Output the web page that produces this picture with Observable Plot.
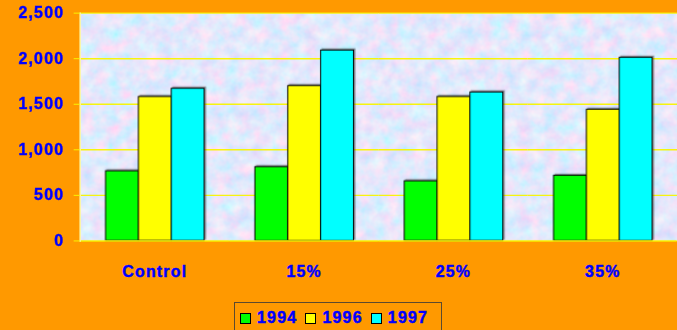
<!DOCTYPE html>
<html>
<head>
<meta charset="utf-8">
<script src="https://cdn.jsdelivr.net/npm/d3@7"></script>
<script src="https://cdn.jsdelivr.net/npm/@observablehq/plot@0.6"></script>
<style>
  html, body { margin: 0; padding: 0; background: #ff9900; overflow: hidden; }
  #wrap { position: relative; width: 677px; height: 330px; overflow: hidden; }
  #wrap svg text { letter-spacing: 1.2px; stroke: #0000ff; stroke-width: 0.45px; }
  .legend {
    position: absolute; left: 234px; top: 302px; width: 208px; height: 40px;
    border: 1px solid #5b4a30; box-sizing: border-box;
    display: flex; align-items: flex-start; padding: 8px 0 0 5px;
    font: bold 16px "Liberation Sans", Arial, sans-serif; letter-spacing: 1.2px; color: #0000ff;
    -webkit-text-stroke: 0.45px #0000ff;
  }
  .legend .item { display: flex; align-items: center; margin-right: 8px; line-height: 14px; }
  .legend .sw { width: 11px; height: 11px; border: 1px solid #000; box-sizing: border-box; margin-right: 6px; }
</style>
</head>
<body>
<div id="wrap"></div>
<script>
// Yield by treatment, three seasons
const categories = ["Control", "15%", "25%", "35%"];
const years = ["1994", "1996", "1997"];
const v1994 = [765, 810, 655, 715];
const v1996 = [1580, 1700, 1580, 1440];
const v1997 = [1670, 2090, 1630, 2010];
const yTicks = [0, 500, 1000, 1500, 2000, 2500];
const yearColors = ["#00ff00", "#ffff00", "#00ffff"];

const series = [v1994, v1996, v1997];
const data = [];
categories.forEach((cat, i) => {
  years.forEach((year, j) => data.push({cat, year, value: series[j][i]}));
});

const blue = "#0000ff";
const gridYellow = "#f8f400";

const plot = Plot.plot({
  width: 680,
  height: 330,
  marginLeft: 80,
  marginRight: 0,
  marginTop: 12.7,
  marginBottom: 88.5,
  style: {
    fontFamily: "'Liberation Sans', Arial, sans-serif",
    fontSize: "16px",
    fontWeight: "bold",
    background: "transparent",
    overflow: "visible"
  },
  // facets abut so gridlines run continuously; the bar groups sit inside each band
  fx: {domain: categories, padding: 0, label: null},
  x: {domain: years, paddingInner: 0, paddingOuter: 0.7275, axis: null},
  y: {domain: [0, 2500], axis: null},
  color: {domain: years, range: yearColors},
  marks: [
    Plot.frame({facet: "super", fill: "#c4d6f7", stroke: "none"}),
    Plot.ruleY(yTicks.filter(d => d > 0), {stroke: gridYellow, strokeWidth: 1.4, strokeOpacity: 0.95}),
    Plot.barY(data, {fx: "cat", x: "year", y: "value", fill: "year", stroke: "#000", strokeWidth: 1}),
    Plot.ruleY([0], {stroke: gridYellow, strokeWidth: 1.5}),
    Plot.frame({facet: "super", anchor: "left", stroke: "#fdf7a0", strokeWidth: 1.5}),
    Plot.axisY({
      ticks: yTicks, tickFormat: d3.format(","), tickSize: 6, tickPadding: 10,
      stroke: gridYellow, fill: blue, label: null
    }),
    Plot.axisFx({anchor: "bottom", tickSize: 0, tickPadding: 25, fill: blue, label: null})
  ]
});

document.getElementById("wrap").appendChild(plot);

// Axis tick marks keep their yellow stroke; only the labels get the heavier blue outline
d3.select(plot).selectAll("g[aria-label$='tick'] path, g[aria-label$='tick'] line").style("stroke", gridYellow);

// Marbled plot-area texture and soft shadow under the bars
const svg = d3.select(plot);
const defs = svg.insert("defs", ":first-child");
const marble = defs.append("filter").attr("id", "marble")
  .attr("x", 0).attr("y", 0).attr("width", 1).attr("height", 1);
marble.append("feTurbulence")
  .attr("type", "fractalNoise").attr("baseFrequency", 0.075)
  .attr("numOctaves", 3).attr("seed", 11).attr("result", "noise");
marble.append("feColorMatrix").attr("in", "noise").attr("type", "matrix")
  .attr("values", "0.6 -0.3 0 0 0.62  0 0.3 -0.15 0 0.73  -0.1 0.1 0 0 0.97  0 0 0 0 1");
const shadow = defs.append("filter").attr("id", "barShadow")
  .attr("x", "-20%").attr("y", "-20%").attr("width", "140%").attr("height", "140%");
shadow.append("feDropShadow").attr("dx", 1.5).attr("dy", -1.2)
  .attr("stdDeviation", 0.5).attr("flood-color", "#333").attr("flood-opacity", 0.55);

const frameNode = plot.querySelector("[aria-label=frame]");
const bgRect = frameNode.tagName.toLowerCase() === "rect" ? frameNode : frameNode.querySelector("rect");
if (bgRect) bgRect.setAttribute("filter", "url(#marble)");
svg.selectAll("g[aria-label=bar]").attr("filter", "url(#barShadow)");

// Legend
const legend = d3.select("#wrap").append("div").attr("class", "legend");
years.forEach((y, i) => {
  const item = legend.append("div").attr("class", "item");
  item.append("div").attr("class", "sw").style("background", yearColors[i]);
  item.append("span").text(y);
});
</script>
</body>
</html>
